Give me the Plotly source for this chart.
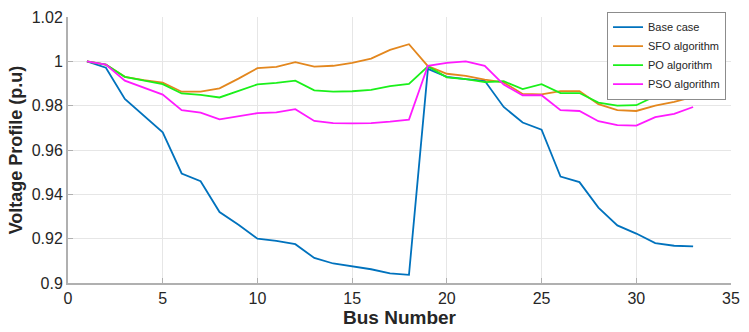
import plotly.graph_objects as go

bus = list(range(1, 34))

base_case = [1.0, 0.9971, 0.983, 0.9757, 0.968, 0.9494, 0.9459, 0.932, 0.9263, 0.920,
             0.919, 0.9175, 0.9113, 0.9088, 0.9074, 0.9062, 0.9043, 0.9037, 0.9966, 0.993,
             0.992, 0.9912, 0.9794, 0.9724, 0.9692, 0.948, 0.9455, 0.934, 0.926, 0.9223,
             0.918, 0.9168, 0.9165]
sfo = [1.0, 0.9985, 0.993, 0.9915, 0.9904, 0.9863, 0.9863, 0.9878, 0.9922, 0.9969,
       0.9975, 0.9996, 0.9976, 0.998, 0.9993, 1.0012, 1.0052, 1.0077, 0.9978, 0.9944,
       0.9934, 0.9917, 0.9905, 0.9853, 0.9851, 0.9866, 0.9866, 0.9807, 0.978, 0.9776,
       0.980, 0.9817, 0.984]
po = [1.0, 0.9985, 0.993, 0.9913, 0.9897, 0.9855, 0.9849, 0.9837, 0.9866, 0.9896,
      0.9903, 0.9913, 0.9869, 0.9863, 0.9865, 0.9871, 0.9888, 0.9898, 0.9977, 0.9928,
      0.992, 0.9906, 0.991, 0.9875, 0.9897, 0.9857, 0.9857, 0.9814, 0.980, 0.9802,
      0.9843, 0.9857, 0.9884]
pso = [1.0, 0.9985, 0.9913, 0.988, 0.985, 0.978, 0.9769, 0.9738, 0.9752, 0.9766,
       0.977, 0.9784, 0.9731, 0.9721, 0.972, 0.9721, 0.9728, 0.9737, 0.998, 0.9993,
       1.0, 0.998, 0.9895, 0.9847, 0.9847, 0.978, 0.9776, 0.973, 0.9712, 0.971,
       0.9748, 0.9763, 0.9794]

names = ["Base case", "SFO algorithm", "PO algorithm", "PSO algorithm"]
colors = ["#0072BD", "#E3871E", "#1AF01A", "#FF1AFF"]
series = [base_case, sfo, po, pso]

x_ticks = [0, 5, 10, 15, 20, 25, 30, 35]
y_ticks = [0.9, 0.92, 0.94, 0.96, 0.98, 1.0, 1.02]
y_tick_labels = ["0.9", "0.92", "0.94", "0.96", "0.98", "1", "1.02"]

fig = go.Figure()
for name, col, ys in zip(names, colors, series):
    fig.add_trace(go.Scatter(x=bus, y=ys, mode="lines", name=name,
                             line=dict(color=col, width=1.8)))

font_family = "Arial, Liberation Sans, Helvetica, sans-serif"
fig.update_layout(
    width=749, height=332,
    margin=dict(l=68, r=12, t=9, b=49),
    paper_bgcolor="white", plot_bgcolor="white",
    font=dict(family=font_family, color="#262626"),
    showlegend=True,
    legend=dict(x=0.9925, y=1.02, xanchor="right", yanchor="top",
                bgcolor="white", bordercolor="#8c8c8c", borderwidth=1,
                font=dict(size=11, color="#262626", family=font_family),
                itemwidth=30, tracegroupgap=0),
)
fig.update_xaxes(
    range=[0, 35], tickvals=x_ticks, ticktext=[str(t) for t in x_ticks],
    showgrid=True, gridcolor="#e6e6e6", gridwidth=1,
    showline=True, linecolor="#b0b0b0", linewidth=2,
    ticks="inside", ticklen=5, tickcolor="#b0b0b0",
    tickfont=dict(size=16, color="#262626"),
    zeroline=False,
    title=dict(text="<b>Bus Number</b>", font=dict(size=19, color="#262626"), standoff=2),
)
fig.update_yaxes(
    range=[0.9, 1.02], tickvals=y_ticks, ticktext=y_tick_labels,
    showgrid=True, gridcolor="#e6e6e6", gridwidth=1,
    showline=True, linecolor="#b0b0b0", linewidth=2,
    ticks="inside", ticklen=5, tickcolor="#b0b0b0",
    tickfont=dict(size=16, color="#262626"),
    zeroline=False,
    title=dict(text="<b>Voltage Profile (p.u)</b>", font=dict(size=18, color="#262626"), standoff=4),
)

fig.write_html("out.html")
